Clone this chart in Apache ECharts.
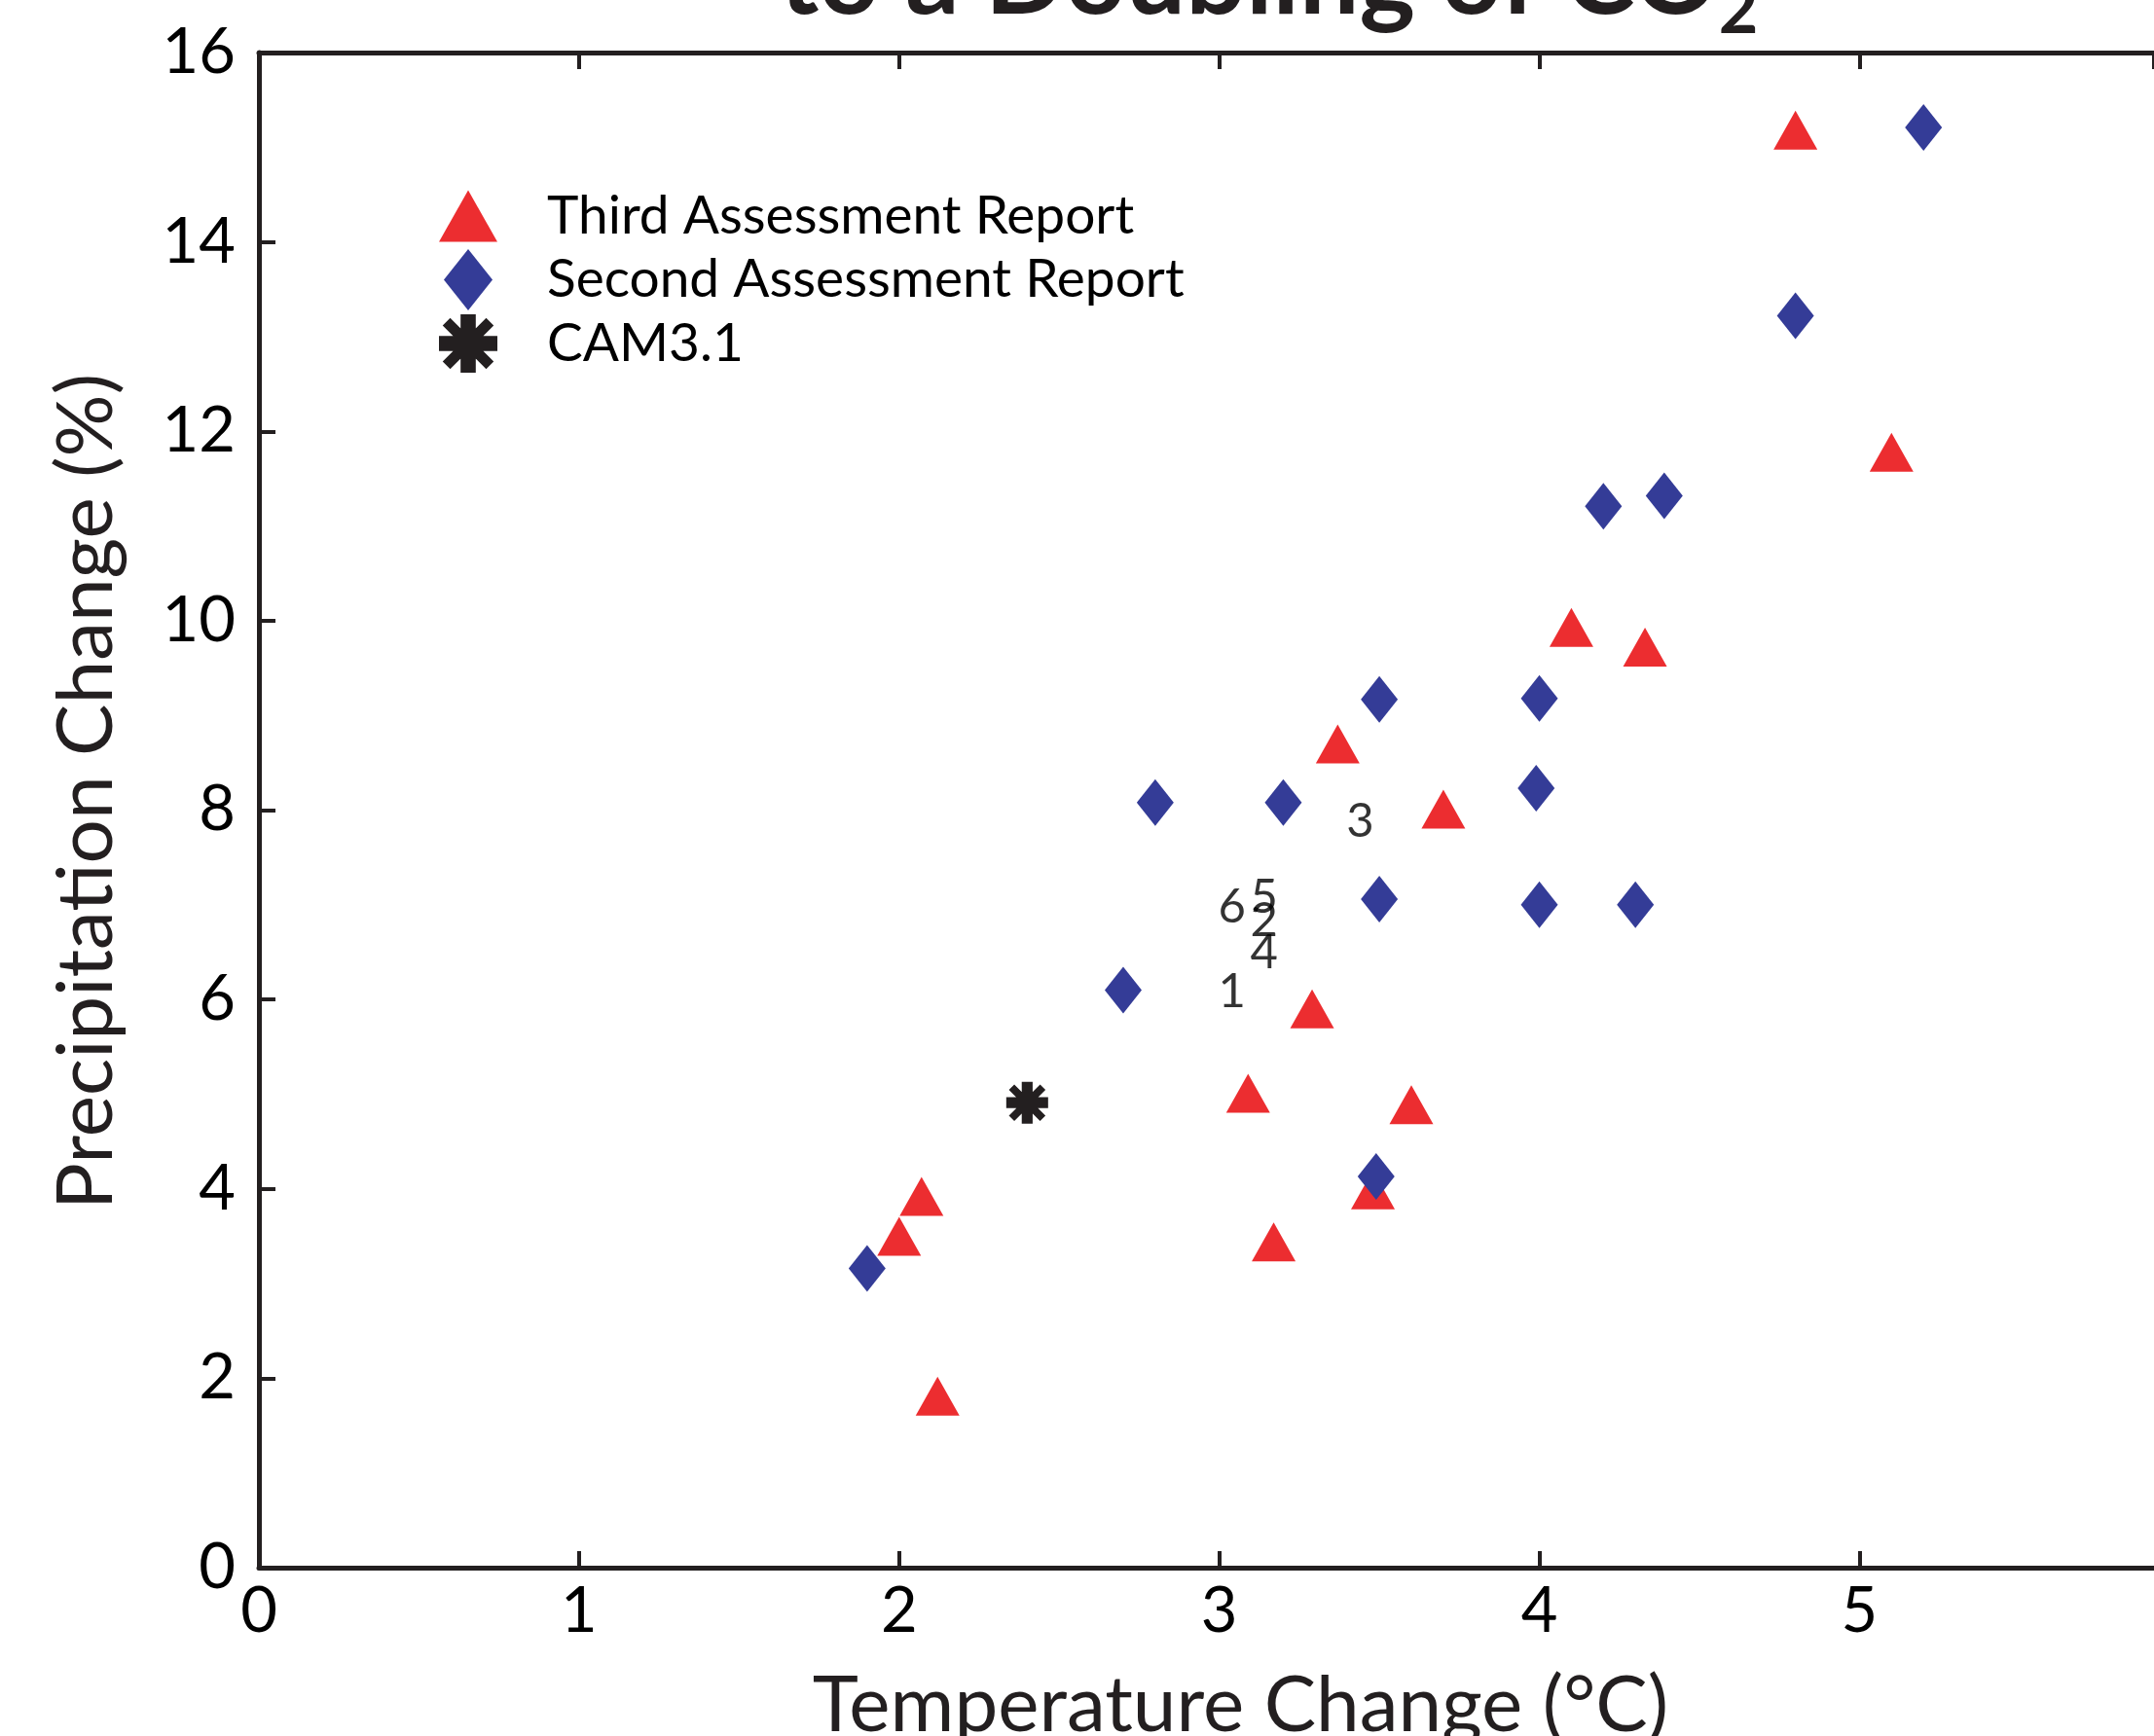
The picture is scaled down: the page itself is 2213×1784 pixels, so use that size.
<!DOCTYPE html>
<html>
<head>
<meta charset="utf-8">
<script src="https://cdn.jsdelivr.net/npm/echarts@6/dist/echarts.min.js"></script>
<style>
  html, body { margin: 0; padding: 0; background: #fff; }
  #chart { width: 2213px; height: 1784px; }
</style>
</head>
<body>
<div id="chart"></div>
<script>
// Third Assessment Report models (red triangles)
const tarTemp = [4.80, 5.10, 4.10, 4.33, 3.37, 3.70, 3.29, 3.09, 3.60, 3.48, 3.17, 2.07, 2.00, 2.12];
const tarPrecip = [15.18, 11.78, 9.93, 9.72, 8.70, 8.01, 5.90, 5.01, 4.89, 3.99, 3.44, 3.92, 3.50, 1.81];

// Second Assessment Report models (blue diamonds)
const sarTemp = [5.20, 4.80, 4.20, 4.39, 3.50, 4.00, 3.99, 2.80, 3.20, 3.50, 4.00, 4.30, 2.70, 3.49, 1.90];
const sarPrecip = [15.21, 13.22, 11.21, 11.32, 9.17, 9.18, 8.23, 8.08, 8.08, 7.06, 7.00, 7.00, 6.10, 4.13, 3.16];

// CAM3.1
const camTemp = [2.40];
const camPrecip = [4.91];

// numbered runs, drawn as text
const runLabels = ["1", "2", "3", "4", "5", "6"];
const runTemp = [3.04, 3.14, 3.44, 3.14, 3.14, 3.04];
const runPrecip = [6.08, 6.83, 7.88, 6.49, 7.08, 6.98];

const xTicks = [0, 1, 2, 3, 4, 5];
const yTicks = [0, 2, 4, 6, 8, 10, 12, 14, 16];

const FONT = "Lato";
const INK = "#231f20";
const RED = "#ec2d30";
const BLUE = "#343c97";

const pair = (xs, ys) => xs.map((x, i) => [x, ys[i]]);

const asterisk =
  "path://M0,37L100,37L100,63L0,63Z" +
  "M63,0L63,100L37,100L37,0Z" +
  "M19.2,6.3L93.7,80.8L80.8,93.7L6.3,19.2Z" +
  "M93.7,19.2L19.2,93.7L6.3,80.8L80.8,6.3Z";
const triIcon = "path://M30,0L60,53L0,53Z";
const diaIcon = "path://M25,0L50,31.5L25,63L0,31.5Z";

const chart = echarts.init(document.getElementById("chart"));

const axisLine = { show: true, lineStyle: { color: INK, width: 5 } };
const axisTick = { show: true, inside: true, length: 17, lineStyle: { color: INK, width: 4 } };

// the plot runs off the right edge of the picture, just short of 6
const xMax = 5.92;

chart.setOption({
  backgroundColor: "#fff",
  animation: false,
  title: {
    text: "{m|to a Doubling of CO}{s|2}",
    left: 801,
    top: -63,
    padding: 0,
    textStyle: {
      rich: {
        m: { fontFamily: FONT, fontWeight: "bold", fontSize: 109, lineHeight: 109,
             padding: [0, 0, 13, 0], color: INK, verticalAlign: "bottom" },
        s: { fontFamily: FONT, fontWeight: "bold", fontSize: 70, lineHeight: 70,
             color: INK, verticalAlign: "bottom" },
      },
    },
  },
  legend: {
    orient: "vertical",
    left: 451,
    top: 192,
    padding: 0,
    itemWidth: 60,
    itemHeight: 63,
    itemGap: 4,
    selectedMode: false,
    textStyle: { fontFamily: FONT, fontSize: 55, lineHeight: 60, color: "#000", padding: [0, 0, 0, 46] },
    data: [
      { name: "Third Assessment Report", icon: triIcon },
      { name: "Second Assessment Report", icon: diaIcon },
      { name: "CAM3.1", icon: asterisk },
    ],
  },
  grid: { left: 266, top: 54, right: 0, height: 1557, outerBoundsMode: "none" },
  xAxis: [
    {
      type: "value",
      min: 0,
      max: xMax,
      interval: 1,
      position: "bottom",
      name: "Temperature Change (°C)",
      nameLocation: "middle",
      nameGap: 102,
      nameTextStyle: { fontFamily: FONT, fontSize: 80, color: INK, padding: [0, 0, 0, 70] },
      axisLine,
      axisTick,
      splitLine: { show: false },
      axisLabel: {
        fontFamily: FONT, fontSize: 65, color: "#000", margin: 13,
        showMaxLabel: false,
        formatter: (v) => (xTicks.includes(v) ? String(v) : ""),
      },
    },
    {
      type: "value",
      min: 0,
      max: xMax,
      interval: 1,
      position: "top",
      axisLine,
      axisTick,
      splitLine: { show: false },
      axisLabel: { show: false },
    },
  ],
  yAxis: {
    type: "value",
    min: 0,
    max: 16,
    interval: 2,
    name: "Precipitation Change (%)",
    nameLocation: "middle",
    nameGap: 137,
    nameTextStyle: { fontFamily: FONT, fontSize: 80, color: INK, padding: [0, 0, 0, 38] },
    axisLine,
    axisTick,
    splitLine: { show: false },
    axisLabel: {
      fontFamily: FONT, fontSize: 65, color: "#000", margin: 24,
      formatter: (v) => (yTicks.includes(v) ? String(v) : ""),
    },
  },
  series: [
    {
      name: "Third Assessment Report",
      type: "scatter",
      symbol: "triangle",
      symbolSize: [45, 40],
      itemStyle: { color: RED, opacity: 1 },
      data: pair(tarTemp, tarPrecip),
    },
    {
      name: "Second Assessment Report",
      type: "scatter",
      symbol: "diamond",
      symbolSize: [38, 48],
      itemStyle: { color: BLUE, opacity: 1 },
      data: pair(sarTemp, sarPrecip),
    },
    {
      name: "CAM3.1",
      type: "scatter",
      symbol: asterisk,
      symbolSize: 43,
      itemStyle: { color: INK, opacity: 1 },
      data: pair(camTemp, camPrecip),
    },
    {
      name: "runs",
      type: "scatter",
      symbolSize: 1,
      itemStyle: { color: "rgba(0,0,0,0)" },
      silent: true,
      label: {
        show: true,
        position: "inside",
        fontFamily: FONT,
        fontSize: 49,
        color: "#000",
        formatter: (p) => p.data[2],
      },
      data: runTemp.map((x, i) => [x, runPrecip[i], runLabels[i]]),
    },
  ],
});
</script>
</body>
</html>
